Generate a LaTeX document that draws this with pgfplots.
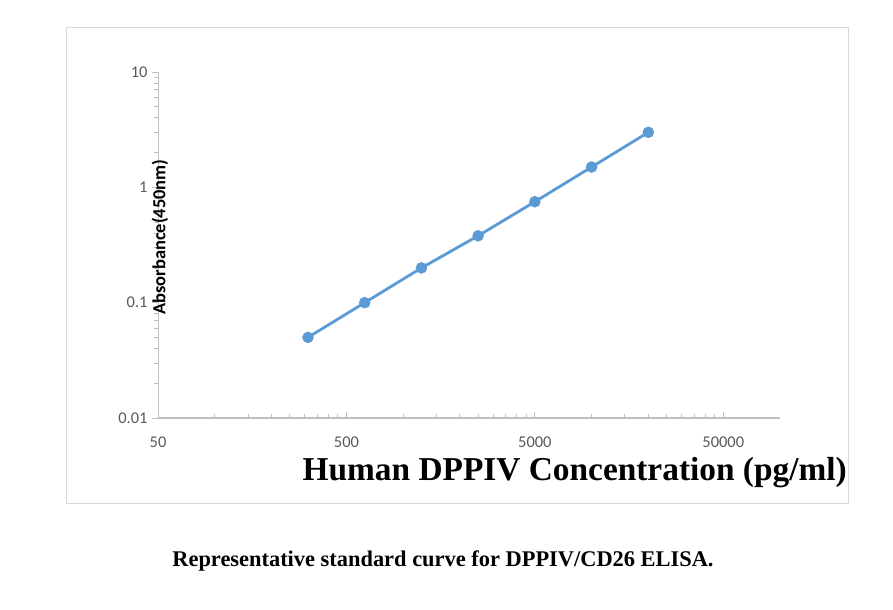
\documentclass[border=0pt]{standalone}
\usepackage{fontspec}
\setmainfont{Liberation Serif}
\newfontfamily\carlito{Carlito}
\usepackage{pgfplots}
\pgfplotsset{compat=1.18}
\definecolor{excelblue}{HTML}{5B9BD5}
\definecolor{tickgray}{HTML}{595959}
\definecolor{axisgray}{HTML}{BFBFBF}
\definecolor{framegray}{HTML}{D9D9D9}
\begin{document}
\begin{tikzpicture}[x=1bp,y=1bp]
\path (0,0) rectangle (893,610);
\draw[framegray, line width=0.8bp] (66,107) rectangle (848,583);
\begin{axis}[
    at={(158bp,192bp)}, anchor=south west,
    scale only axis,
    width=622bp, height=346bp,
    xmode=log, ymode=log,
    xmin=50, xmax=100000,
    ymin=0.01, ymax=10,
    axis x line*=bottom,
    axis y line*=left,
    x axis line style={line width=2.5bp, color=axisgray},
    y axis line style={line width=0.9bp, color=axisgray},
    xtick={50,500,5000,50000},
    xticklabels={50,500,5000,50000},
    minor xtick={100,150,200,250,300,350,400,450,1000,1500,2000,2500,3000,3500,4000,4500,10000,15000,20000,25000,30000,35000,40000,45000},
    ytick={0.01,0.1,1,10},
    yticklabels={0.01,0.1,1,10},
    x tick style={color=axisgray, line width=0.8bp},
    y tick style={color=axisgray, line width=0.8bp},
    xtick align=inside,
    ytick align=outside,
    major tick length=6bp,
    minor tick length=4bp,
    ticklabel style={font=\carlito\fontsize{16.5}{18}\selectfont, text=tickgray},
    xticklabel style={yshift=-15bp},
    yticklabel style={xshift=-1bp},
    xlabel={Human DPPIV Concentration (pg/ml)},
    xlabel style={at={(axis description cs:0.670,-0.158)}, anchor=center,
        font=\bfseries\fontsize{33.5}{36}\selectfont},
    ylabel={Absorbance(450nm)},
    ylabel style={at={(axis description cs:0.003,0.523)}, anchor=center, rotate=0,
        font=\carlito\bfseries\fontsize{18.5}{21}\selectfont},
    clip=false,
]
\addplot[color=excelblue, line width=2.8bp, mark=*, mark size=5.5bp,
    mark options={fill=excelblue, draw=excelblue, line width=0.5bp}] coordinates {
    (312.5,0.05)
    (625,0.1)
    (1250,0.2)
    (2500,0.38)
    (5000,0.75)
    (10000,1.5)
    (20000,3.0)
};
\end{axis}
\node[font=\bfseries\fontsize{22.5}{25}\selectfont] at (443,49) {Representative standard curve for DPPIV/CD26 ELISA.};
\end{tikzpicture}
\end{document}
